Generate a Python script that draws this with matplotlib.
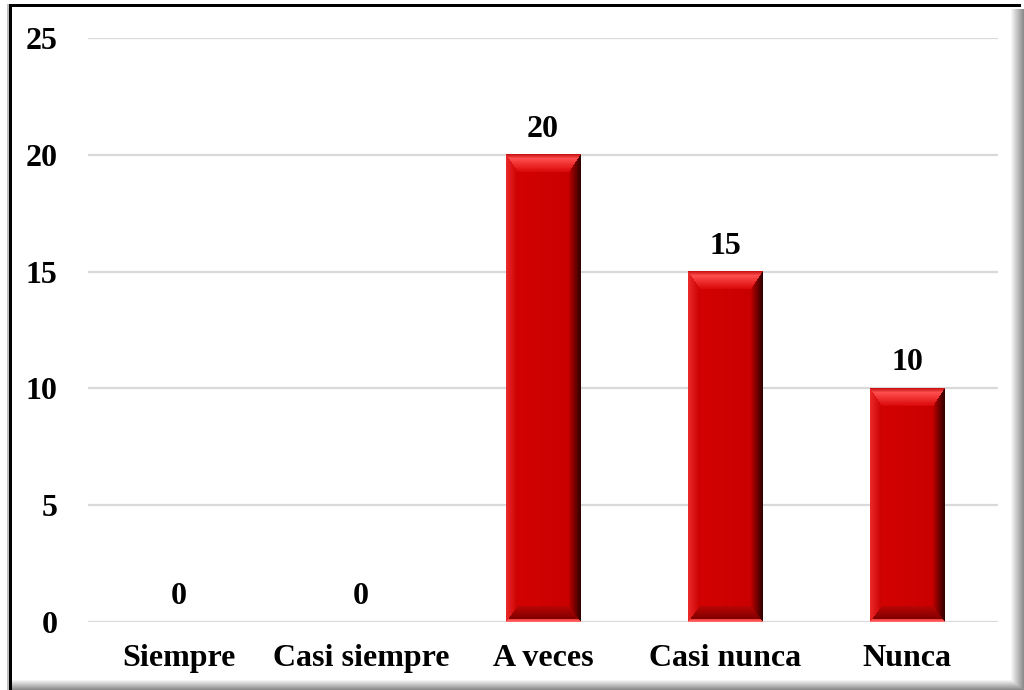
import numpy as np
import matplotlib
matplotlib.use("Agg")
import matplotlib.pyplot as plt

# Survey response counts
categories = ["Siempre", "Casi siempre", "A veces", "Casi nunca", "Nunca"]
counts = [0, 0, 20, 15, 10]
y_ticks = [0, 5, 10, 15, 20, 25]

W_PX, H_PX = 1024, 690
DPI = 100
FONT = "Liberation Serif"

fig = plt.figure(figsize=(W_PX / DPI, H_PX / DPI), dpi=DPI)
fig.patch.set_facecolor("white")

# plot area in pixels
ax_l, ax_r, ax_b, ax_t = 88, 998, 622, 38
ax = fig.add_axes([ax_l / W_PX, (H_PX - ax_b) / H_PX,
                   (ax_r - ax_l) / W_PX, (ax_b - ax_t) / H_PX])
ax.set_xlim(-0.5, len(categories) - 0.5)
ax.set_ylim(0, 25)
ax.set_yticks(y_ticks)
ax.set_xticks(range(len(categories)))
ax.set_xticklabels(categories)
for s in ax.spines.values():
    s.set_visible(False)
ax.tick_params(length=0)
ax.tick_params(axis="x", pad=16)
ax.tick_params(axis="y", pad=22)
for lab in ax.get_xticklabels() + ax.get_yticklabels():
    lab.set_fontfamily(FONT)
    lab.set_fontweight("bold")
    lab.set_fontsize(23)
ax.yaxis.grid(True, color="#D9D9D9", lw=1.6)
ax.set_axisbelow(True)

bar_w = 0.41
bars = ax.bar(range(len(categories)), counts, width=bar_w, color="none",
              edgecolor="none")

px_per_x = (ax_r - ax_l) / (len(categories))
px_per_y = (ax_b - ax_t) / 25.0


def lerp(c0, c1, t):
    t = np.clip(t, 0, 1)[..., None]
    return np.array(c0) * (1 - t) + np.array(c1) * t


def bevel_texture(wpx, hpx, bs=11, bt=17, bb=15):
    u = np.arange(wpx)[None, :] * np.ones((hpx, 1))
    v = np.arange(hpx)[:, None] * np.ones((1, wpx))
    dl = u / bs
    dr = (wpx - 1 - u) / bs
    dt = v / bt
    db = (hpx - 1 - v) / bb
    stack = np.stack([dt, db, dl, dr, np.full_like(u, 1.0)])
    region = np.argmin(stack, axis=0)
    img = np.zeros((hpx, wpx, 3))
    # face
    face = lerp((0.84, 0.01, 0.01), (0.78, 0.0, 0.0), u / max(wpx - 1, 1))
    img[:] = face
    # top bevel: dark rim, bright band, fading inward
    t = dt
    top = np.where(t[..., None] < 0.25,
                   lerp((0.80, 0.08, 0.08), (1.0, 0.32, 0.32), t / 0.25),
                   lerp((1.0, 0.30, 0.30), (0.86, 0.04, 0.04), (t - 0.25) / 0.75))
    img[region == 0] = top[region == 0]
    # bottom bevel: light rim, then dark shading
    t = db
    bot = np.where(t[..., None] < 0.15,
                   lerp((1.0, 0.40, 0.40), (0.95, 0.25, 0.25), t / 0.15),
                   lerp((0.50, 0.0, 0.0), (0.72, 0.02, 0.02), (t - 0.15) / 0.85))
    img[region == 1] = bot[region == 1]
    # left bevel
    left = lerp((0.92, 0.16, 0.16), (0.80, 0.0, 0.0), dl)
    img[region == 2] = left[region == 2]
    # right bevel: deep shadow at the edge
    right = lerp((0.20, 0.0, 0.0), (0.72, 0.0, 0.0), dr)
    img[region == 3] = right[region == 3]
    return img


for rect, val in zip(bars, counts):
    x0 = rect.get_x()
    w = rect.get_width()
    h = rect.get_height()
    if h > 0:
        wpx = max(int(round(w * px_per_x)), 2)
        hpx = max(int(round(h * px_per_y)), 2)
        tex = bevel_texture(wpx, hpx)
        ax.imshow(tex, extent=(x0, x0 + w, 0, h), aspect="auto",
                  interpolation="nearest", zorder=3)
    ax.annotate(f"{val}", (x0 + w / 2, h), xytext=(0, 13),
                textcoords="offset points", ha="center", va="baseline",
                fontfamily=FONT, fontweight="bold", fontsize=23, zorder=4)

ax.set_xlim(-0.5, len(categories) - 0.5)
ax.set_ylim(0, 25)

# outer frame with soft shadow on the right and bottom
ov = fig.add_axes([0, 0, 1, 1], zorder=-1)
ov.set_axis_off()
frame = np.ones((H_PX, W_PX, 4))
frame[..., 3] = 0.0
# right shadow
for x in range(1010, W_PX):
    g = 1 - 0.45 * (x - 1010) / (W_PX - 1 - 1010)
    frame[9:, x, :3] = g
    frame[9:, x, 3] = 1
# bottom shadow
for y in range(679, H_PX):
    g = 1 - 0.45 * (y - 679) / (H_PX - 1 - 679)
    sub = frame[y, 12:, :3]
    cur = np.where(frame[y, 12:, 3:4] > 0, sub, 1.0)
    frame[y, 12:, :3] = np.minimum(cur, g)
    frame[y, 12:, 3] = 1
# black outline on top and left
frame[4:7, 9:1021, :3] = 0
frame[4:7, 9:1021, 3] = 1
frame[4:H_PX, 9:12, :3] = 0
frame[4:H_PX, 9:12, 3] = 1
frame[4:H_PX, 7:9, :3] = 0.75
frame[4:H_PX, 7:9, 3] = 1
ov.imshow(frame, extent=(0, W_PX, 0, H_PX), aspect="auto",
          interpolation="nearest")
ov.set_xlim(0, W_PX)
ov.set_ylim(0, H_PX)

fig.savefig("out.png", dpi=DPI, facecolor="white")
